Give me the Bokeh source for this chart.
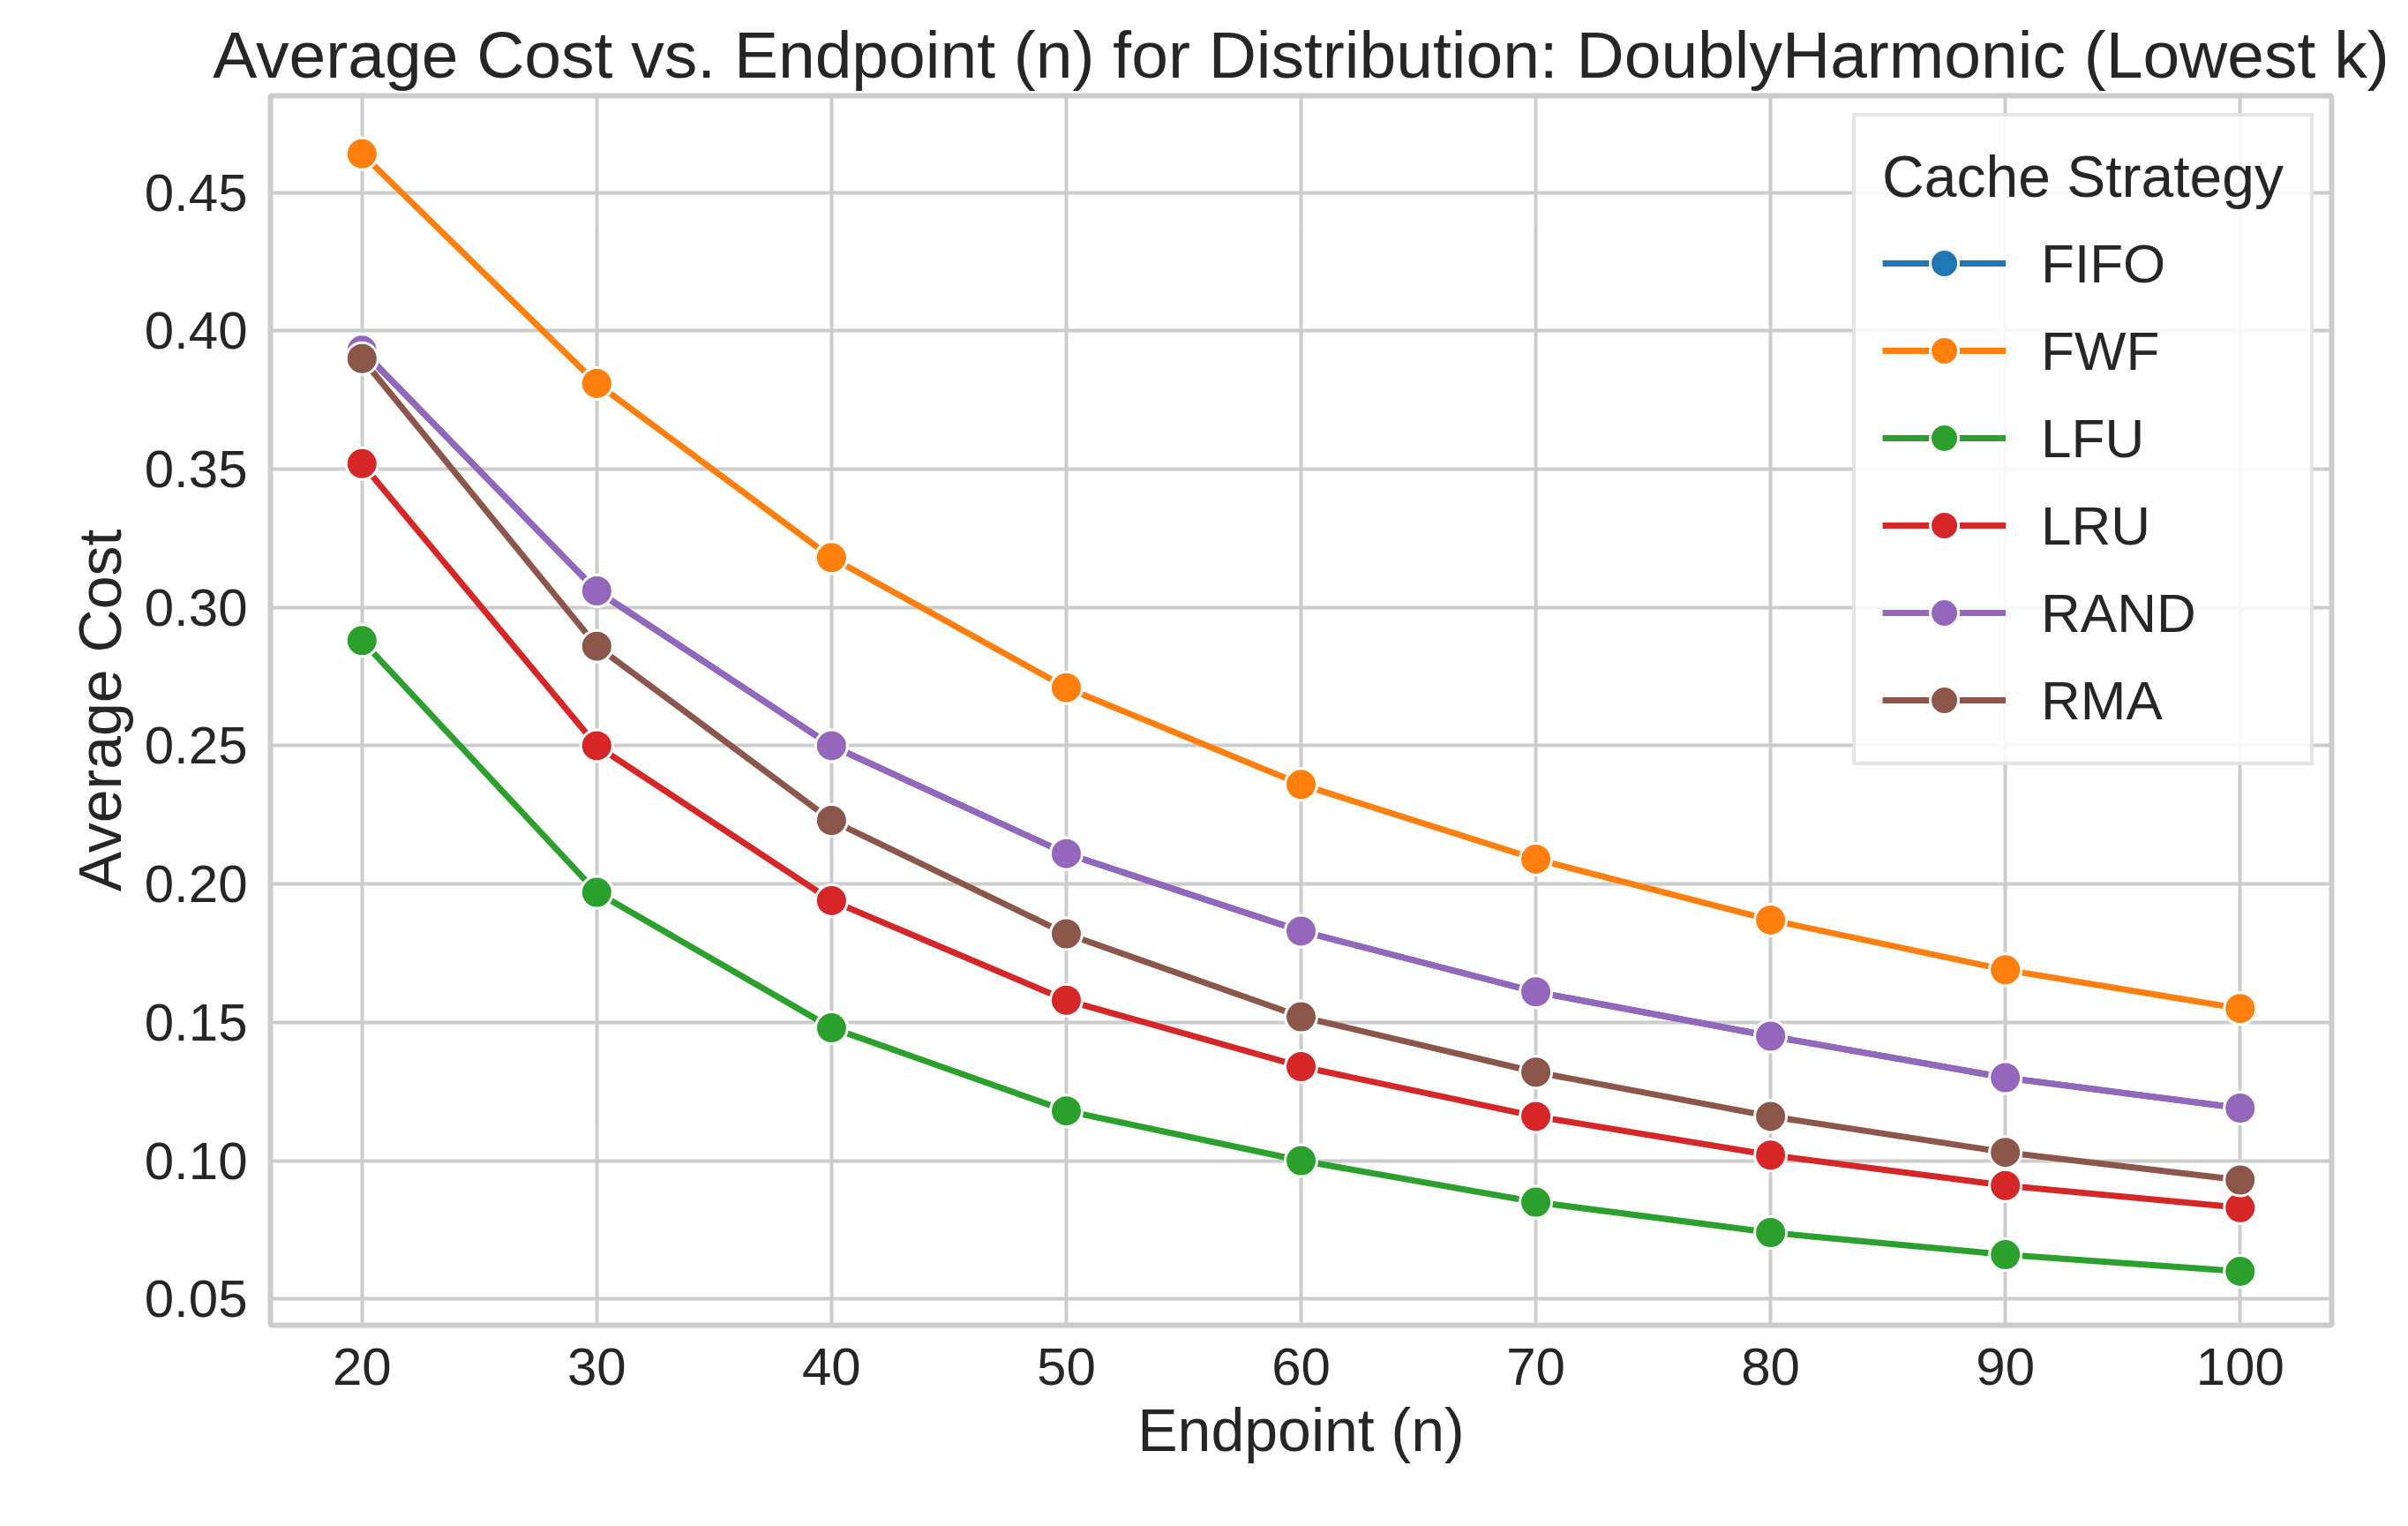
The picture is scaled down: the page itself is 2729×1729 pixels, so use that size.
from bokeh.plotting import figure
from bokeh.models import Range1d, FixedTicker, Legend, LegendItem
from bokeh.embed import file_html
from bokeh.resources import INLINE

endpoints = [20, 30, 40, 50, 60, 70, 80, 90, 100]
fifo = [0.393, 0.306, 0.250, 0.211, 0.183, 0.161, 0.145, 0.130, 0.119]
fwf = [0.464, 0.381, 0.318, 0.271, 0.236, 0.209, 0.187, 0.169, 0.155]
lfu = [0.288, 0.197, 0.148, 0.118, 0.100, 0.085, 0.074, 0.066, 0.060]
lru = [0.352, 0.250, 0.194, 0.158, 0.134, 0.116, 0.102, 0.091, 0.083]
rand = [0.393, 0.306, 0.250, 0.211, 0.183, 0.161, 0.145, 0.130, 0.119]
rma = [0.390, 0.286, 0.223, 0.182, 0.152, 0.132, 0.116, 0.103, 0.093]

series = [("FIFO", fifo, "#1f77b4"), ("FWF", fwf, "#ff7f0e"), ("LFU", lfu, "#2ca02c"),
          ("LRU", lru, "#d62728"), ("RAND", rand, "#9467bd"), ("RMA", rma, "#8c564b")]

FONT = "Liberation Sans"

p = figure(width=2710, height=1710, output_backend="svg", toolbar_location=None,
           x_range=Range1d(16.1, 103.9), y_range=Range1d(0.0405, 0.485),
           title="Average Cost vs. Endpoint (n) for Distribution: DoublyHarmonic (Lowest k)",
           x_axis_label="Endpoint (n)", y_axis_label="Average Cost",
           min_border_left=306, min_border_right=68, min_border_top=108, min_border_bottom=209)

p.title.text_font = FONT
p.title.text_font_size = "75px"
p.title.text_font_style = "normal"
p.title.text_color = "#262626"
p.title.align = "center"
p.title.offset = 0

p.xaxis.ticker = FixedTicker(ticks=endpoints)
yticks = [0.05, 0.10, 0.15, 0.20, 0.25, 0.30, 0.35, 0.40, 0.45]
p.yaxis.ticker = FixedTicker(ticks=yticks)
p.yaxis.major_label_overrides = {v: f"{v:.2f}" for v in yticks}
for ax in (p.xaxis, p.yaxis):
    ax.major_label_text_font = FONT
    ax.major_label_text_font_size = "60px"
    ax.major_label_text_color = "#262626"
    ax.axis_label_text_font = FONT
    ax.axis_label_text_font_size = "68px"
    ax.axis_label_text_font_style = "normal"
    ax.axis_label_text_color = "#262626"
    ax.axis_line_color = None
    ax.major_tick_line_color = None
    ax.minor_tick_line_color = None
    ax.major_label_standoff = 20
    ax.axis_label_standoff = 10

p.grid.grid_line_color = "#cccccc"
p.grid.grid_line_width = 4
p.outline_line_color = "#cccccc"
p.outline_line_width = 6

items = []
for name, vals, col in series:
    r1 = p.line(endpoints, vals, line_color=col, line_width=7)
    r2 = p.scatter(endpoints, vals, size=36, fill_color=col, line_color="white", line_width=3)
    items.append(LegendItem(label=name, renderers=[r1, r2]))

legend = Legend(items=items, location="top_right", title="Cache Strategy")
legend.title_text_font = FONT
legend.title_text_font_size = "66px"
legend.title_text_font_style = "normal"
legend.title_text_color = "#262626"
legend.title_standoff = 20
legend.label_text_font = FONT
legend.label_text_font_size = "62px"
legend.label_text_color = "#262626"
legend.glyph_width = 140
legend.glyph_height = 80
legend.label_height = 80
legend.label_standoff = 40
legend.spacing = 19
legend.padding = 30
legend.margin = 20
legend.border_line_color = "#cccccc"
legend.border_line_width = 4
legend.background_fill_alpha = 0.85
p.add_layout(legend)

open("out.html", "w").write(file_html(p, INLINE))
